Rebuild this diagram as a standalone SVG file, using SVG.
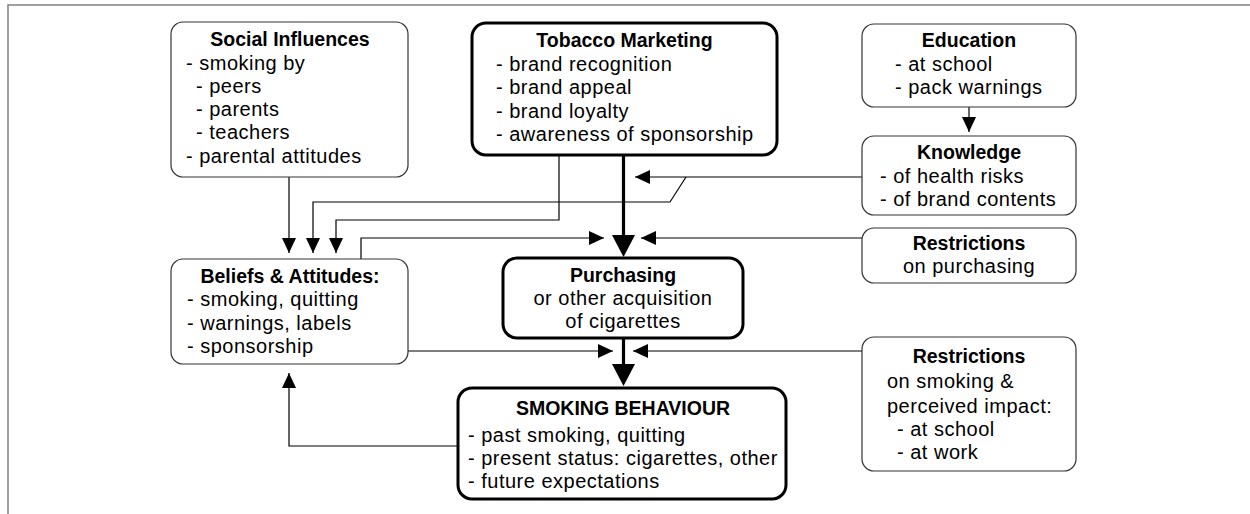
<svg xmlns="http://www.w3.org/2000/svg" width="1250" height="514" viewBox="0 0 1250 514">
<style>
  .box{fill:#fff;stroke:#333;stroke-width:1.2}
  .tbox{fill:#fff;stroke:#000;stroke-width:3}
  .t{font-family:"Liberation Sans",Arial,sans-serif;font-size:20px;fill:#000;letter-spacing:0.5px}
  .b{font-weight:bold;font-size:19.5px;text-anchor:middle;letter-spacing:0}
  .c{text-anchor:middle}
  .ln{fill:none;stroke:#000;stroke-width:1.2}
  .th{fill:none;stroke:#000;stroke-width:3.2}
  .frame{fill:none;stroke:#808080;stroke-width:1.5}
</style>
<defs>
  <marker id="a" markerUnits="userSpaceOnUse" markerWidth="15" markerHeight="14" refX="15" refY="7" orient="auto">
    <path d="M0,0 L15,7 L0,14 z" fill="#000"/>
  </marker>
  <marker id="A" markerUnits="userSpaceOnUse" markerWidth="22" markerHeight="23" refX="14" refY="11.5" orient="auto">
    <path d="M0,0 L22,11.5 L0,23 z" fill="#000"/>
  </marker>
</defs>
<rect width="1250" height="514" fill="#fff"/>
<path class="frame" d="M8,514 V5 H1250"/>

<g id="connectors">
  <path class="ln" d="M289,177 V253" marker-end="url(#a)"/>
  <path class="ln" d="M862,177 H635" marker-end="url(#a)"/>
  <path class="ln" d="M686,177 L670,202 H313 V253" marker-end="url(#a)"/>
  <path class="ln" d="M559,155 V220 H336 V253" marker-end="url(#a)"/>
  <path class="ln" d="M361,259 V238 H604" marker-end="url(#a)"/>
  <path class="ln" d="M862,238 H641" marker-end="url(#a)"/>
  <path class="ln" d="M969,107 V132" marker-end="url(#a)"/>
  <path class="ln" d="M408,351 H613" marker-end="url(#a)"/>
  <path class="ln" d="M862,351 H633" marker-end="url(#a)"/>
  <path class="ln" d="M458,446 H289 V373" marker-end="url(#a)"/>
  <path class="th" d="M623.5,155 V249" marker-end="url(#A)"/>
  <path class="th" d="M623.5,338 V378" marker-end="url(#A)"/>
</g>

<g id="social">
  <rect class="box" x="171" y="22" width="237" height="155" rx="12"/>
  <text class="t b" x="290" y="46">Social Influences</text>
  <text class="t" x="186" y="69.5">- smoking by</text>
  <text class="t" x="196" y="92.8">- peers</text>
  <text class="t" x="196" y="116">- parents</text>
  <text class="t" x="196" y="139.3">- teachers</text>
  <text class="t" x="186" y="162.6">- parental attitudes</text>
</g>

<g id="tobacco">
  <rect class="tbox" x="472" y="23" width="305" height="132" rx="14"/>
  <text class="t b" x="624.5" y="47">Tobacco Marketing</text>
  <text class="t" x="496" y="70.5">- brand recognition</text>
  <text class="t" x="496" y="94">- brand appeal</text>
  <text class="t" x="496" y="117.5">- brand loyalty</text>
  <text class="t" x="496" y="141">- awareness of sponsorship</text>
</g>

<g id="education">
  <rect class="box" x="862" y="24" width="214" height="83" rx="12"/>
  <text class="t b" x="969" y="47">Education</text>
  <text class="t" x="895" y="71">- at school</text>
  <text class="t" x="895" y="94">- pack warnings</text>
</g>

<g id="knowledge">
  <rect class="box" x="862" y="136" width="214" height="79" rx="12"/>
  <text class="t b" x="969" y="159">Knowledge</text>
  <text class="t" x="880" y="183">- of health risks</text>
  <text class="t" x="880" y="206">- of brand contents</text>
</g>

<g id="restrictions-purchasing">
  <rect class="box" x="862" y="228" width="214" height="55" rx="12"/>
  <text class="t b" x="969" y="250">Restrictions</text>
  <text class="t c" x="969" y="273">on purchasing</text>
</g>

<g id="beliefs">
  <rect class="box" x="171" y="259" width="237" height="105" rx="12"/>
  <text class="t b" x="290" y="283">Beliefs &amp; Attitudes:</text>
  <text class="t" x="187" y="306">- smoking, quitting</text>
  <text class="t" x="187" y="330">- warnings, labels</text>
  <text class="t" x="187" y="353">- sponsorship</text>
</g>

<g id="purchasing">
  <rect class="tbox" x="503" y="258" width="240" height="80" rx="14"/>
  <text class="t b" x="623" y="282">Purchasing</text>
  <text class="t c" x="623" y="305">or other acquisition</text>
  <text class="t c" x="623" y="328">of cigarettes</text>
</g>

<g id="restrictions-smoking">
  <rect class="box" x="862" y="337" width="214" height="134" rx="12"/>
  <text class="t b" x="969" y="363">Restrictions</text>
  <text class="t" x="887" y="388">on smoking &amp;</text>
  <text class="t" x="887" y="413">perceived impact:</text>
  <text class="t" x="897" y="436">- at school</text>
  <text class="t" x="897" y="459">- at work</text>
</g>

<g id="smoking-behaviour">
  <rect class="tbox" x="458" y="388" width="328" height="111" rx="14"/>
  <text class="t b" x="623" y="415">SMOKING BEHAVIOUR</text>
  <text class="t" x="468" y="442">- past smoking, quitting</text>
  <text class="t" x="468" y="465">- present status: cigarettes, other</text>
  <text class="t" x="468" y="488">- future expectations</text>
</g>
</svg>
